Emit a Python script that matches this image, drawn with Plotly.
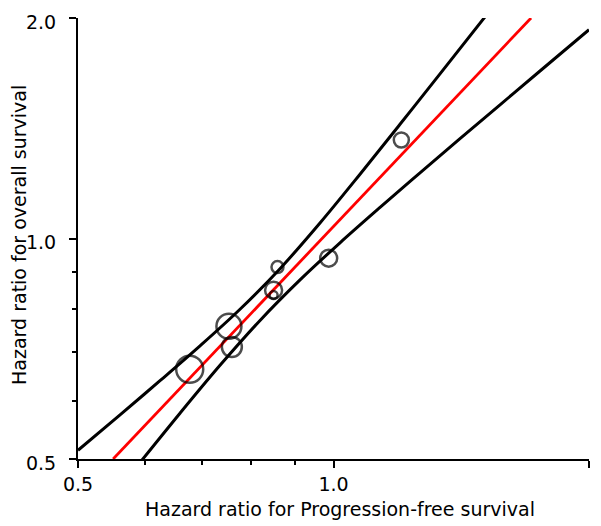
import plotly.graph_objects as go

# Trial-level hazard ratios: progression-free survival (x) vs overall survival (y)
hr_pfs = [0.677, 0.753, 0.759, 0.850, 0.850, 0.859, 0.987, 1.202]
hr_os = [0.663, 0.759, 0.711, 0.850, 0.837, 0.914, 0.940, 1.363]
trial_weight = [27, 25, 20, 17, 8, 12, 17, 15]

# Fitted regression line (log-log scale)
fit_pfs = [0.550, 1.709]
fit_os = [0.500, 2.000]

# Confidence band limits
upper_pfs = [0.5000, 0.5604, 0.6246, 0.6962, 0.7760, 0.8649, 0.9640,
             1.0746, 1.1977, 1.3350, 1.5166]
upper_os = [0.5139, 0.5745, 0.6395, 0.7135, 0.8005, 0.9095, 1.0500,
            1.2240, 1.4319, 1.6777, 2.0233]
lower_pfs = [0.5916, 0.6594, 0.7350, 0.8193, 0.9132, 1.0178, 1.1345,
             1.2645, 1.4094, 1.5710, 1.7511, 2.0000]
lower_os = [0.4945, 0.5774, 0.6712, 0.7730, 0.8780, 0.9866, 1.1026,
            1.2290, 1.3685, 1.5224, 1.6931, 1.9277]

tick_vals = [0.5, 1.0, 2.0]
tick_text = ["0.5", "1.0", "2.0"]
minor_vals = [0.6, 0.7, 0.8, 0.9]

x_title = "Hazard ratio for Progression-free survival"
y_title = "Hazard ratio for overall survival"

band_line = dict(color="black", width=3, shape="spline", smoothing=1.0)

fig = go.Figure()
fig.add_trace(go.Scatter(x=upper_pfs, y=upper_os, mode="lines",
                         line=band_line, hoverinfo="skip"))
fig.add_trace(go.Scatter(x=lower_pfs, y=lower_os, mode="lines",
                         line=band_line, hoverinfo="skip"))
fig.add_trace(go.Scatter(x=fit_pfs, y=fit_os, mode="lines",
                         line=dict(color="#ff0000", width=2.8), hoverinfo="skip"))
fig.add_trace(go.Scatter(x=hr_pfs, y=hr_os, mode="markers",
                         marker=dict(size=trial_weight, sizemode="diameter",
                                     symbol="circle-open", color="black",
                                     line=dict(color="black", width=2.5)),
                         cliponaxis=False))

family = "DejaVu Sans, Arial, sans-serif"
tick_font = dict(family=family, size=19, color="black")
title_font = dict(family=family, size=19, color="black")

axis_common = dict(
    type="log",
    range=[-0.30103, 0.30103],
    tickvals=tick_vals,
    ticktext=tick_text,
    ticks="outside",
    ticklen=7,
    tickwidth=2,
    tickcolor="black",
    showline=True,
    linecolor="black",
    linewidth=2,
    showgrid=False,
    zeroline=False,
    automargin=False,
    tickfont=tick_font,
    minor=dict(tickvals=minor_vals, ticks="outside", ticklen=4, tickwidth=2,
               tickcolor="black", showgrid=False),
)

fig.update_layout(
    width=601,
    height=526,
    margin=dict(l=78, r=12, t=18, b=67),
    plot_bgcolor="white",
    paper_bgcolor="white",
    showlegend=False,
    font=tick_font,
    xaxis=dict(axis_common, ticklabelstandoff=0),
    yaxis=dict(axis_common, ticklabelstandoff=9, ticklabelshift=4),
    annotations=[
        dict(text=x_title, xref="paper", yref="paper", x=0.513, y=-0.1145,
             xanchor="center", yanchor="middle", showarrow=False, font=title_font),
        dict(text=y_title, xref="paper", yref="paper", x=-0.1155, y=0.508,
             xanchor="center", yanchor="middle", textangle=-90, showarrow=False,
             font=title_font),
    ],
)

fig.write_html("out.html")
